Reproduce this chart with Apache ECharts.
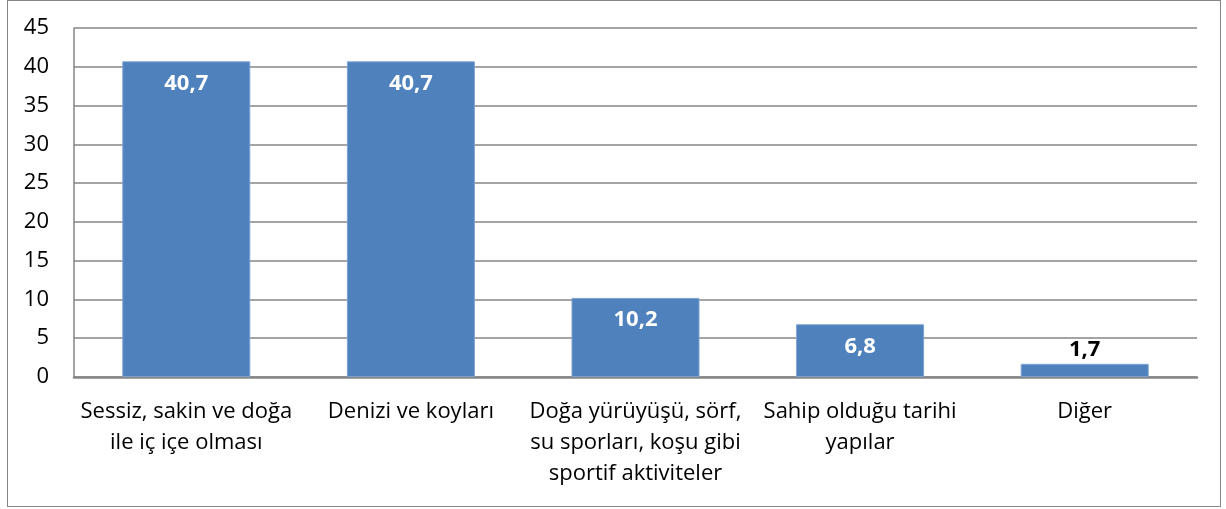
<!DOCTYPE html>
<html><head><meta charset="utf-8">
<script src="https://cdn.jsdelivr.net/npm/echarts@6/dist/echarts.min.js"></script>
<style>
html,body{margin:0;padding:0;background:#fff;}
#frame{position:absolute;left:7px;top:0px;width:1212px;height:505px;border:1px solid #868686;}
#c{position:absolute;left:0;top:0;width:1226px;height:509px;}
</style></head>
<body>
<div id="frame"></div>
<div id="c"></div>
<script>
const categories = [
  "Sessiz, sakin ve doğa\nile iç içe olması",
  "Denizi ve koyları",
  "Doğa yürüyüşü, sörf,\nsu sporları, koşu gibi\nsportif aktiviteler",
  "Sahip olduğu tarihi\nyapılar",
  "Diğer"
];
const values = [40.7, 40.7, 10.2, 6.8, 1.7];
const yTicks = [0, 5, 10, 15, 20, 25, 30, 35, 40, 45];

const font = "'Open Sans', sans-serif";
const fmt = v => String(v).replace('.', ',');
const data = values.map(v => v < 5 ? {
  value: v,
  label: {position: 'top', color: '#000', distance: 3}
} : {value: v});

const chart = echarts.init(document.getElementById('c'), null, {renderer: 'canvas'});
chart.setOption({
  animation: false,
  grid: {left: 74, right: 29, top: 28, bottom: 132},
  xAxis: {
    type: 'category',
    data: categories,
    axisTick: {show: false},
    axisLine: {lineStyle: {color: '#868686', width: 2.5}},
    axisLabel: {interval: 0, color: '#000', fontFamily: font, fontSize: 22, lineHeight: 31, margin: 19}
  },
  yAxis: {
    type: 'value',
    min: yTicks[0], max: yTicks[yTicks.length - 1], interval: 5,
    axisLine: {show: true, lineStyle: {color: '#868686', width: 1.5}},
    axisTick: {show: false},
    splitLine: {lineStyle: {color: '#868686', width: 1.5}},
    axisLabel: {color: '#000', fontFamily: font, fontSize: 22, margin: 25}
  },
  series: [{
    type: 'bar',
    data: data,
    barWidth: '57%',
    itemStyle: {color: '#4F81BD', borderColor: '#7EA3D1', borderWidth: 1},
    label: {
      show: true, position: 'insideTop', distance: 11,
      color: '#fff', fontWeight: 'bold', fontFamily: font, fontSize: 22,
      formatter: p => fmt(p.value)
    }
  }]
});
</script>
</body></html>
